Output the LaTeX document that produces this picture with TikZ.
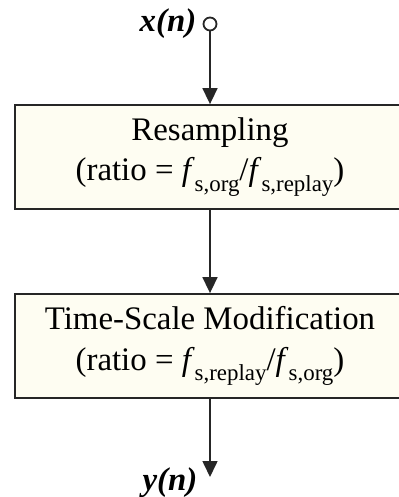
\documentclass[tikz,border=0pt]{standalone}
\usepackage{fontspec}
\setmainfont{Liberation Serif}
\usepackage{xcolor}
\usetikzlibrary{arrows.meta,positioning}

\definecolor{boxfill}{HTML}{FEFDF2}
\definecolor{inkline}{HTML}{262626}
\newcommand\lowidx[1]{\raisebox{-0.33em}{\fontsize{23}{23}\selectfont #1}}

\begin{document}
\begin{tikzpicture}[x=1bp, y=-1bp,
    blockbox/.style={draw=inkline, line width=1.8bp, fill=boxfill, align=center,
      minimum width=390bp, minimum height=104bp, inner sep=0pt,
      font=\fontsize{33}{41}\selectfont},
    sigtxt/.style={font=\fontsize{33}{33}\selectfont\bfseries\itshape, inner sep=0pt},
    flow/.style={-{Triangle[width=15bp,length=16bp]}, draw=inkline, line width=1.6bp}]
  \useasboundingbox (0,0) rectangle (398,497);
  % blocks
  \node[blockbox] (resamp) at (210,157)
    {Resampling\\(ratio = \textit{f}\lowidx{s,org}/\textit{f}\lowidx{s,replay})};
  \node[blockbox] (tsm) at (210,346)
    {Time-Scale Modification\\(ratio = \textit{f}\lowidx{s,replay}/\textit{f}\lowidx{s,org})};
  % input and output
  \node[draw=inkline, line width=1.8bp, circle, minimum size=13bp, inner sep=0pt] (src) at (210,24) {};
  \node[sigtxt, anchor=base] (xlab) at (168,32) {x(n)};
  \coordinate (sink) at (210,477);
  \node[sigtxt, anchor=base] (ylab) at (170,490) {y(n)};
  % connectors
  \draw[flow] (src) -- (resamp);
  \draw[flow] (resamp) -- (tsm);
  \draw[flow] (tsm) -- (sink);
\end{tikzpicture}
\end{document}
